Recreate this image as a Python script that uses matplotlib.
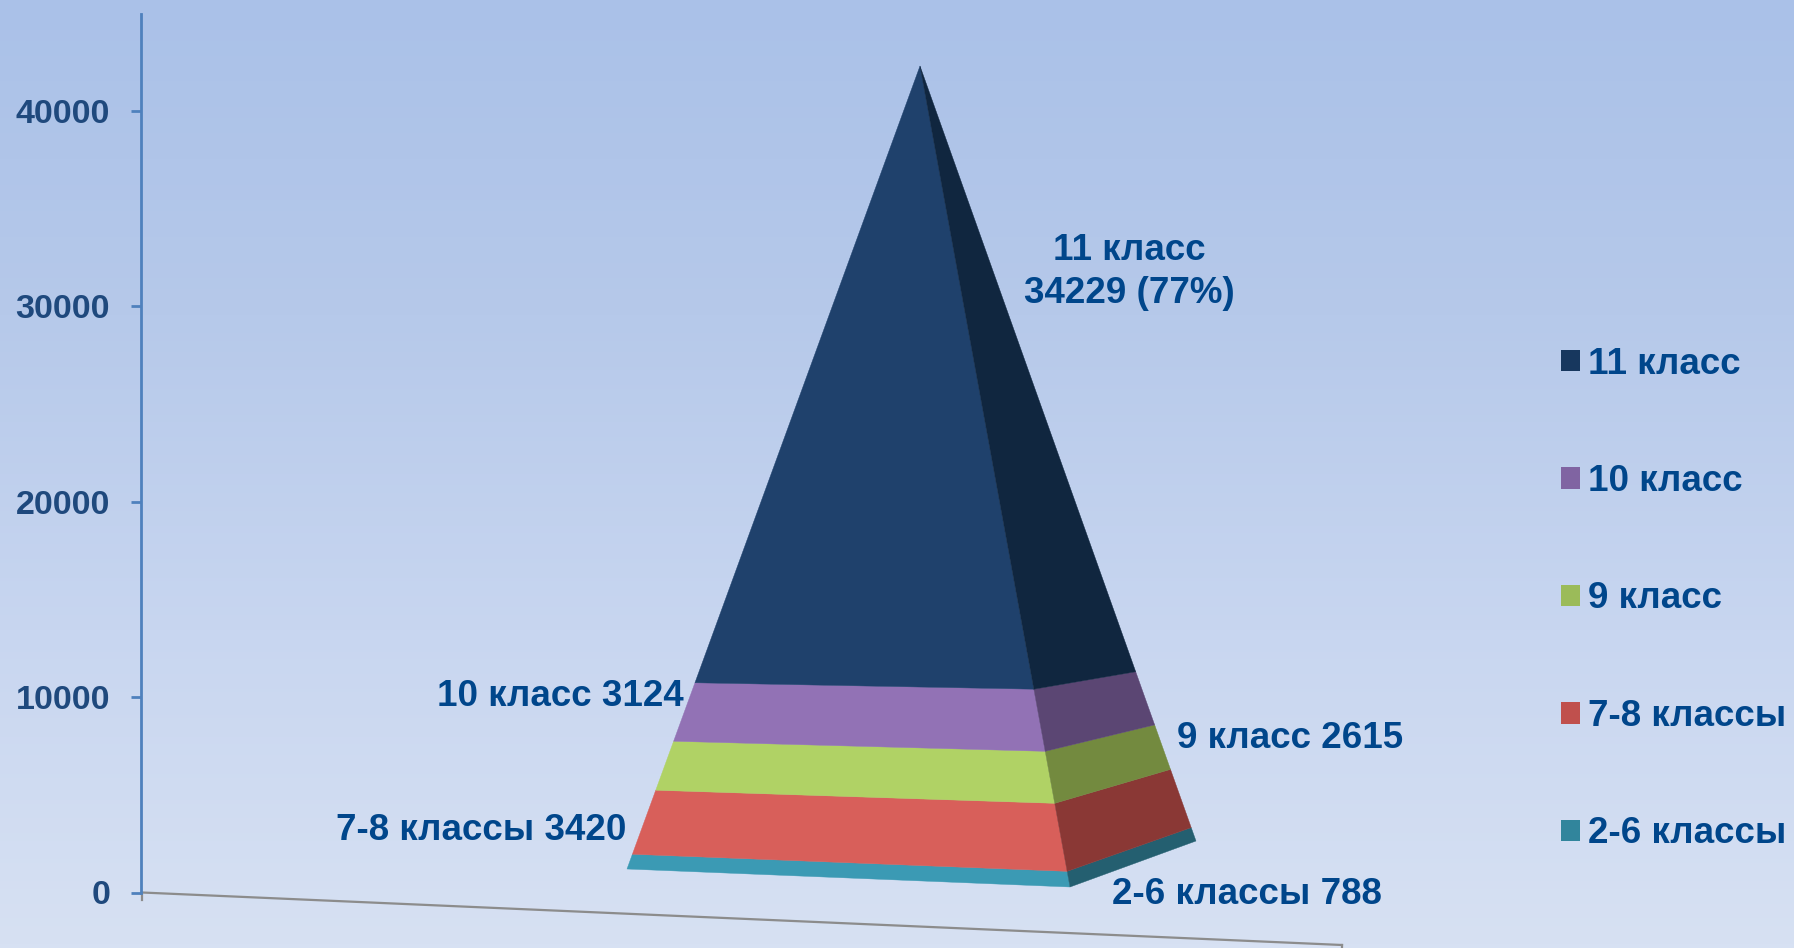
import numpy as np
import matplotlib.pyplot as plt
from matplotlib.colors import LinearSegmentedColormap
from matplotlib.patches import Patch, Polygon

plt.rcParams.update({
    'font.family': ['Liberation Sans', 'DejaVu Sans'],
    'font.weight': 'bold',
    'font.size': 26.5,
})

# данные снизу вверх
classes = ['2-6 классы', '7-8 классы', '9 класс', '10 класс', '11 класс']
values = [788, 3420, 2615, 3124, 34229]
tick_values = [0, 10000, 20000, 30000, 40000]

front_colors = ['#3b9ab4', '#d85f5a', '#b0d265', '#9272b5', '#1f416c']
side_colors = ['#245f70', '#8a3835', '#738a3f', '#5b4673', '#10263f']
legend_colors = ['#31859c', '#c0504d', '#9bbb59', '#8064a2', '#17375e']

W, H = 1794, 948
TEXT = '#00468b'

fig = plt.figure(figsize=(W / 100, H / 100), dpi=100)


def fx(px):
    return px / W


def fy(py):
    return 1 - py / H


# фон - вертикальный градиент
bg = fig.add_axes([0, 0, 1, 1])
bg.axis('off')
cmap = LinearSegmentedColormap.from_list('bg', ['#aac1e8', '#b6c9ea', '#c8d6f0', '#d7e1f3'])
bg.imshow(np.linspace(0, 1, 256).reshape(-1, 1), cmap=cmap, aspect='auto')

# ось значений: x идет в пикселях картинки
Y0, Y40K = 892.5, 111
ymax = (Y0 - 14) / (Y0 - Y40K) * 40000
ax = fig.add_axes([fx(141), fy(Y0), 1 - fx(141), (Y0 - 14) / H])
ax.patch.set_alpha(0)
ax.set_xlim(141, W)
ax.set_ylim(0, ymax)
for side in ['top', 'right', 'bottom']:
    ax.spines[side].set_visible(False)
ax.spines['left'].set_color('#4f81bd')
ax.spines['left'].set_linewidth(2)
ax.set_xticks([])
ax.set_yticks(tick_values)
ax.tick_params(axis='y', length=7.2, width=2, color='#4f81bd', pad=15,
               labelsize=24.5, labelcolor='#1f497d')


def val(py):
    # пиксель по вертикали -> значение на оси
    return (Y0 - py) / (Y0 - Y40K) * 40000


# пол диаграммы
ax.plot([142, 1342], [0, val(945)], color='#8c8c8c', lw=1.6, clip_on=False)
ax.plot([142, 142], [0, val(900)], color='#8c8c8c', lw=1.6, clip_on=False)
ax.plot([1342, 1342], [val(945), val(948)], color='#8c8c8c', lw=1.6, clip_on=False)

# углы пирамиды и поправка перспективы для каждого ребра
apex = np.array([920, val(66)])
corners = [np.array([627, val(869)]), np.array([1070, val(887)]), np.array([1196, val(841)])]
stretch = [1.03, 1.07, 0.97]

total = sum(values)
bounds = np.cumsum([0] + values) / total


def edge_point(i, f):
    if f >= 1:
        return apex
    return corners[i] + (apex - corners[i]) * f * stretch[i]


for k in range(len(values)):
    f0, f1 = bounds[k], bounds[k + 1]
    front = [edge_point(0, f0), edge_point(1, f0), edge_point(1, f1), edge_point(0, f1)]
    side = [edge_point(1, f0), edge_point(2, f0), edge_point(2, f1), edge_point(1, f1)]
    ax.add_patch(Polygon(front, closed=True, fc=front_colors[k], ec=front_colors[k], lw=0.3, clip_on=False))
    ax.add_patch(Polygon(side, closed=True, fc=side_colors[k], ec=side_colors[k], lw=0.3, clip_on=False))

# подписи данных
fig.text(fx(1129), fy(272), f'{classes[4]}\n{values[4]} (77%)', color=TEXT, ha='center', va='center',
         linespacing=1.3)
fig.text(fx(684), fy(696), f'{classes[3]} {values[3]}', color=TEXT, ha='right', va='center')
fig.text(fx(1177), fy(738), f'{classes[2]} {values[2]}', color=TEXT, ha='left', va='center')
fig.text(fx(626), fy(831), f'{classes[1]} {values[1]}', color=TEXT, ha='right', va='center')
fig.text(fx(1112), fy(894), f'{classes[0]} {values[0]}', color=TEXT, ha='left', va='center')

# легенда
handles = [Patch(fc=c, ec='none', label=n) for c, n in zip(legend_colors[::-1], classes[::-1])]
fig.legend(handles=handles, loc='center left', bbox_to_anchor=(fx(1561), fy(599)), bbox_transform=fig.transFigure,
           frameon=False, labelspacing=2.24, handlelength=0.52, handleheight=0.52,
           handletextpad=0.22, borderpad=0, borderaxespad=0, labelcolor=TEXT)

plt.savefig('out.png', dpi=100)
plt.close()
